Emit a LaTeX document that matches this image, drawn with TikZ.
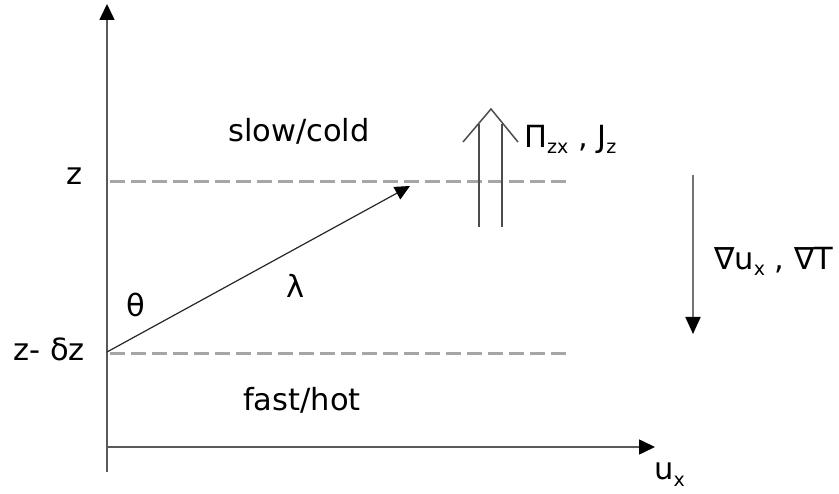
\documentclass[tikz,border=0pt]{standalone}
\usepackage{fontspec}
\setmainfont{DejaVu Sans}
\usetikzlibrary{arrows.meta}

\newcommand{\lowsub}[1]{\raisebox{-6pt}{\fontsize{19}{19}\selectfont #1}}

\begin{document}
\begin{tikzpicture}[
  x=1pt,y=-1pt,
  lbl/.style={inner sep=0pt,anchor=base,font=\fontsize{30.5}{35}\selectfont},
  axis/.style={line width=1.6pt,draw=black!65,-{Triangle[length=16pt,width=15pt,color=black,fill=black]}},
  level/.style={draw=black!35,line width=3pt,dash pattern=on 15pt off 6pt},
  path/.style={line width=1.2pt,draw=black!85,-{Triangle[length=15pt,width=14pt,color=black,fill=black]}},
  flux/.style={line width=1.5pt,draw=black!70},
  grad/.style={line width=1.8pt,draw=black!55,-{Triangle[length=17pt,width=15pt,color=black,fill=black]}}
]
\useasboundingbox (0,0) rectangle (839,494);
% axes
\coordinate (zbot) at (107,472);
\coordinate (ztop) at (107,4);
\coordinate (orig) at (107,447);
\coordinate (uend) at (655,447);
\draw[axis] (zbot) -- (ztop);
\draw[axis] (orig) -- (uend);
% the two levels
\coordinate (upL) at (110,182); \coordinate (upR) at (567,182);
\coordinate (loL) at (110,354); \coordinate (loR) at (567,354);
\draw[level] (upL) -- (upR);
\draw[level] (loL) -- (loR);
% free path
\coordinate (start) at (107,352);
\coordinate (hit) at (410,186);
\draw[path] (start) -- (hit);
% flux arrow
\coordinate (fLb) at (479,227); \coordinate (fLt) at (479,124);
\coordinate (fRb) at (502,227); \coordinate (fRt) at (502,124);
\coordinate (wL) at (463,142); \coordinate (ftip) at (491,109); \coordinate (wR) at (518,142);
\draw[flux] (fLb) -- (fLt);
\draw[flux] (fRb) -- (fRt);
\draw[flux] (wL) -- (ftip) -- (wR);
% gradient arrow
\coordinate (gtop) at (693,175);
\coordinate (gbot) at (693,334);
\draw[grad] (gtop) -- (gbot);
% labels
\node[lbl] (zlab) at (75,185) {z};
\node[lbl] (zdz) at (49,361) {z- δz};
\node[lbl] (theta) at (136,317) {θ};
\node[lbl] (lambda) at (296,298) {λ};
\node[lbl] (slow) at (299,142) {slow/cold};
\node[lbl] (fast) at (302,411) {fast/hot};
\node[lbl,anchor=base west] (fluxlab) at (524,148) {Π\lowsub{zx} , J\lowsub{z}};
\node[lbl,anchor=base west] (gradlab) at (714,270) {∇u\lowsub{x} , ∇T};
\node[lbl,anchor=base west] (ux) at (654,480) {u\lowsub{x}};
\end{tikzpicture}
\end{document}
